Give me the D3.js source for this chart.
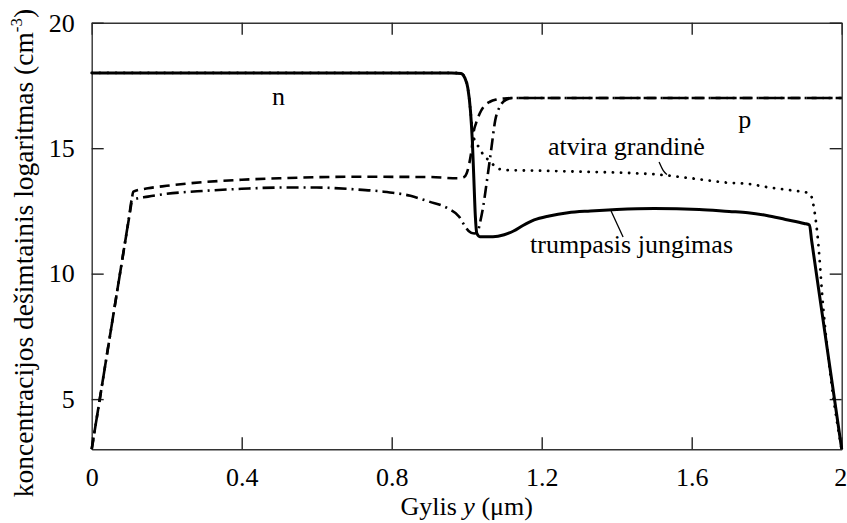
<!DOCTYPE html>
<html>
<head>
<meta charset="utf-8">
<script src="https://cdn.jsdelivr.net/npm/d3@7"></script>
<style>
  body { margin: 0; background: #fff; }
</style>
</head>
<body>
<div id="chart"></div>
<script>
// duomenys: [gylis um, log10 koncentracija]
const xTicks = [0, 0.4, 0.8, 1.2, 1.6, 2];
const yTicks = [5, 10, 15, 20];

// n (elektronai), trumpasis jungimas - istisine
const nShort = [[0,18],[0.96,18],[0.985,17.98],[0.995,17.8],[1.003,17.4],[1.01,16.5],[1.015,15.3],
  [1.019,13.8],[1.023,12.3],[1.027,11.6],[1.035,11.47],[1.07,11.47],[1.1,11.55],[1.125,11.7],
  [1.15,11.92],[1.18,12.14],[1.22,12.3],[1.27,12.43],[1.33,12.5],[1.4,12.56],[1.5,12.6],
  [1.62,12.56],[1.7,12.48],[1.75,12.43],[1.8,12.32],[1.85,12.16],[1.9,12.0],[1.914,11.94],
  [1.92,11.3],[2.0,3.0]];

// elektronai, atvira grandine - taskine
const nOpen = [[0,18],[0.96,18],[0.985,17.98],[0.995,17.8],[1.003,17.4],[1.01,16.5],[1.016,15.6],
  [1.025,15.2],[1.035,15.0],[1.045,14.7],[1.062,14.5],[1.076,14.26],[1.1,14.13],[1.2,14.1],
  [1.31,14.06],[1.45,14.0],[1.51,13.95],[1.6,13.8],[1.7,13.62],[1.75,13.58],[1.8,13.45],
  [1.86,13.33],[1.915,13.2],[1.925,12.7],[1.935,11.6],[1.951,8.6],[1.973,5.6],[2.0,3.0]];

// p (skyles), atvira grandine - bruksnine
const pOpen = [[0,3],[0.105,12.72],[0.111,13.27],[0.15,13.4],[0.2,13.5],[0.3,13.65],[0.4,13.74],
  [0.5,13.8],[0.7,13.86],[0.9,13.85],[0.975,13.8],[0.993,13.85],[1.0,14.0],[1.007,14.4],
  [1.013,14.93],[1.018,15.6],[1.025,16.0],[1.035,16.39],[1.048,16.7],[1.062,16.85],[1.08,16.94],
  [1.1,16.98],[1.13,17],[2.0,17]];

// skyles, trumpasis jungimas - bruksnys-taskas
const pShort = [[0,3],[0.1,12.28],[0.107,12.93],[0.15,13.07],[0.2,13.18],[0.3,13.3],[0.4,13.38],
  [0.5,13.43],[0.6,13.43],[0.7,13.36],[0.77,13.28],[0.85,13.1],[0.9,12.87],[0.95,12.6],
  [0.98,12.27],[0.995,11.9],[1.005,11.7],[1.02,11.6],[1.03,11.7],[1.035,12.0],[1.044,12.67],
  [1.053,13.6],[1.065,14.9],[1.076,16.1],[1.09,16.7],[1.105,16.93],[1.124,17.0],[2.0,17.0]];

// uzrasai
const labels = [
  { text: "n", x: 0.481, y: 16.72 },
  { text: "p", x: 1.724, y: 15.81 },
  { text: "atvira grandinė", x: 1.217, y: 14.72 },
  { text: "trumpasis jungimas", x: 1.169, y: 10.82 }
];
const leaders = [
  [[1.513,14.45],[1.524,14.07],[1.534,13.95]],
  [[1.385,12.5],[1.417,11.46]]
];

const W = 847, H = 523;
const mLeft = 91.7, mRight = 841.7, mTop = 22.7, mBottom = 449.3;
const serif = "'Liberation Serif', 'DejaVu Serif', serif";

const svg = d3.select("#chart").append("svg").attr("width", W).attr("height", H);

const x = d3.scaleLinear().domain([0, 2]).range([mLeft, mRight]);
const y = d3.scaleLinear().domain([3, 20]).range([mBottom, mTop]);

function styleAxis(g) {
  g.attr("font-family", null);
  g.selectAll(".domain").attr("stroke", "#333").attr("stroke-width", 1.4);
  g.selectAll(".tick line").attr("stroke", "#222").attr("stroke-width", 1.4);
  g.selectAll("text").style("font-family", serif).style("font-size", "26px");
}

const xAxisG = svg.append("g").attr("transform", `translate(0,${mBottom})`)
  .call(d3.axisBottom(x).tickValues(xTicks).tickFormat(d => String(d))
    .tickSizeInner(-12).tickSizeOuter(0).tickPadding(18))
  .call(styleAxis);
// paskutinis zymuo prie krasto
xAxisG.selectAll("text").filter(d => d === 2).attr("text-anchor", "end").attr("x", 5);

svg.append("g").attr("transform", `translate(0,${mTop})`)
  .call(d3.axisTop(x).tickValues(xTicks).tickFormat("").tickSizeInner(-12).tickSizeOuter(0))
  .call(styleAxis);
svg.append("g").attr("transform", `translate(${mLeft},0)`)
  .call(d3.axisLeft(y).tickValues(yTicks).tickSizeInner(-12).tickSizeOuter(0).tickPadding(17))
  .call(styleAxis);
svg.append("g").attr("transform", `translate(${mRight},0)`)
  .call(d3.axisRight(y).tickValues(yTicks).tickFormat("").tickSizeInner(-12).tickSizeOuter(0))
  .call(styleAxis);

const line = d3.line().x(d => x(d[0])).y(d => y(d[1])).curve(d3.curveMonotoneX);

const curves = [
  { data: pOpen, dash: "10,6", w: 2.6, cap: "butt" },
  { data: pShort, dash: "12,5,2,5", w: 2.6, cap: "butt" },
  { data: nOpen, dash: "0.1,8", w: 2.8, cap: "round" },
  { data: nShort, dash: null, w: 3, cap: "butt" }
];

svg.selectAll("path.curve").data(curves).enter().append("path")
  .attr("class", "curve")
  .attr("d", d => line(d.data))
  .attr("fill", "none")
  .attr("stroke", "#000")
  .attr("stroke-width", d => d.w)
  .attr("stroke-linecap", d => d.cap)
  .attr("stroke-dasharray", d => d.dash);

svg.selectAll("path.leader").data(leaders).enter().append("path")
  .attr("class", "leader")
  .attr("d", d3.line().x(d => x(d[0])).y(d => y(d[1])).curve(d3.curveBasis))
  .attr("fill", "none")
  .attr("stroke", "#000")
  .attr("stroke-width", 1.3);

svg.selectAll("text.lbl").data(labels).enter().append("text")
  .attr("class", "lbl")
  .attr("x", d => x(d.x))
  .attr("y", d => y(d.y))
  .style("font-family", serif)
  .style("font-size", "26px")
  .text(d => d.text);

// asiu pavadinimai
const xl = svg.append("text")
  .attr("x", (mLeft + mRight) / 2)
  .attr("y", 515)
  .attr("text-anchor", "middle")
  .style("font-family", serif)
  .style("font-size", "26px");
xl.append("tspan").text("Gylis ");
xl.append("tspan").style("font-style", "italic").text("y");
xl.append("tspan").text(" (μm)");

const yl = svg.append("text")
  .attr("transform", "translate(33,253) rotate(-90)")
  .attr("text-anchor", "middle")
  .style("font-family", serif)
  .style("font-size", "27.5px");
yl.append("tspan").text("koncentracijos dešimtainis logaritmas (cm");
yl.append("tspan").style("font-size", "17px").attr("dy", -11).text("-3");
yl.append("tspan").attr("dy", 11).text(")");
</script>
</body>
</html>
